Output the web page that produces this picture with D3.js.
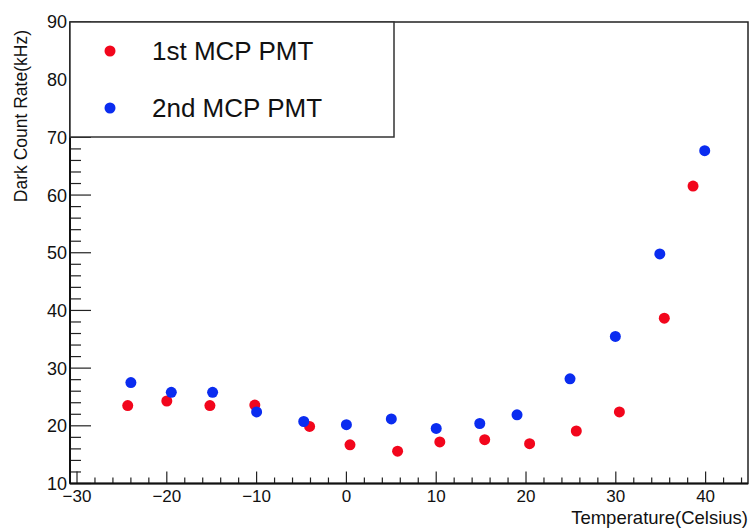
<!DOCTYPE html>
<html><head><meta charset="utf-8">
<script src="https://cdn.jsdelivr.net/npm/d3@7"></script>
<style>body{margin:0;background:#fff}svg{display:block}text{font-family:"Liberation Sans",Arial,sans-serif}</style>
</head><body><svg id="c" width="752" height="528"></svg>
<script>
const series1Name = "1st MCP PMT";
const series2Name = "2nd MCP PMT";
const redX = [-24.35, -20.0, -15.2, -10.2, -4.1, 0.4, 5.7, 10.4, 15.4, 20.4, 25.6, 30.4, 35.4, 38.6];
const redY = [23.5, 24.3, 23.5, 23.6, 19.9, 16.7, 15.6, 17.2, 17.6, 16.9, 19.1, 22.4, 38.65, 61.55];
const blueX = [-24.0, -19.5, -14.9, -10.0, -4.75, 0.0, 5.0, 10.0, 14.85, 19.0, 24.9, 29.95, 34.9, 39.9];
const blueY = [27.5, 25.8, 25.8, 22.4, 20.75, 20.2, 21.2, 19.55, 20.4, 21.9, 28.15, 35.5, 49.8, 67.7];
const xTicks = [-30, -20, -10, 0, 10, 20, 30, 40];
const yTicks = [10, 20, 30, 40, 50, 60, 70, 80, 90];
const xTitle = "Temperature(Celsius)";
const yTitle = "Dark Count Rate(kHz)";

const svg = d3.select("#c");
const L = 70, R = 748, T = 22, B = 483.5;
const x = d3.scaleLinear().domain([-30.78, 44.72]).range([L, R]);
const y = d3.scaleLinear().domain([10, 90]).range([B, T]);
const red = "#f2061c", blue = "#0a2cf0";

// frame
svg.append("rect").attr("x", L).attr("y", T).attr("width", R - L).attr("height", B - T)
  .attr("fill", "none").attr("stroke", "#222").attr("stroke-width", 1.5);

// y axis
const yMinor = d3.range(10, 90.01, 2);
const gy = svg.append("g");
gy.selectAll("line.mn").data(yMinor).join("line")
  .attr("x1", L).attr("x2", d => L + (d % 10 === 0 ? 21 : 11))
  .attr("y1", d => y(d)).attr("y2", d => y(d)).attr("stroke", "#222").attr("stroke-width", 1.2);
gy.selectAll("text").data(yTicks).join("text")
  .attr("x", L - 3).attr("y", d => y(d)).attr("dy", "0.36em").attr("text-anchor", "end")
  .attr("font-size", 18).attr("fill", "#111").text(d => d);
svg.append("line").attr("x1", L).attr("x2", L).attr("y1", T).attr("y2", B).attr("stroke", "#111").attr("stroke-width", 2);

// x axis
const xMinor = d3.range(-30, 44.5, 2);
const gx = svg.append("g");
gx.selectAll("line").data(xMinor).join("line")
  .attr("x1", d => x(d)).attr("x2", d => x(d))
  .attr("y1", B).attr("y2", d => B - (d % 10 === 0 ? 12 : 6)).attr("stroke", "#222").attr("stroke-width", 1.2);
gx.selectAll("text").data(xTicks).join("text")
  .attr("x", d => x(d)).attr("y", 502).attr("text-anchor", "middle")
  .attr("font-size", 17).attr("fill", "#111").text(d => d3.format("")(d));
svg.append("line").attr("x1", L).attr("x2", R).attr("y1", B).attr("y2", B).attr("stroke", "#111").attr("stroke-width", 2);

// titles
svg.append("text").attr("x", R).attr("y", 524).attr("text-anchor", "end")
  .attr("font-size", 18.5).attr("fill", "#111").text(xTitle);
svg.append("text").attr("transform", `translate(27,${T + 8}) rotate(-90)`).attr("text-anchor", "end")
  .attr("font-size", 17.5).attr("fill", "#111").text(yTitle);

// points
const r = 5.5;
svg.append("g").selectAll("circle").data(redX.map((v, i) => [v, redY[i]])).join("circle")
  .attr("cx", d => x(d[0])).attr("cy", d => y(d[1])).attr("r", r).attr("fill", red);
svg.append("g").selectAll("circle").data(blueX.map((v, i) => [v, blueY[i]])).join("circle")
  .attr("cx", d => x(d[0])).attr("cy", d => y(d[1])).attr("r", r).attr("fill", blue);

// legend
const lg = svg.append("g");
lg.append("rect").attr("x", L).attr("y", T).attr("width", 324).attr("height", 115)
  .attr("fill", "#fff").attr("stroke", "#333").attr("stroke-width", 1.5);
const items = [[series1Name, red, 51], [series2Name, blue, 108]];
items.forEach(([name, col, cy]) => {
  lg.append("circle").attr("cx", 110).attr("cy", cy).attr("r", r).attr("fill", col);
  lg.append("text").attr("x", 152).attr("y", cy).attr("dy", "0.36em").attr("font-size", 26)
    .attr("fill", "#111").text(name);
});
</script></body></html>
